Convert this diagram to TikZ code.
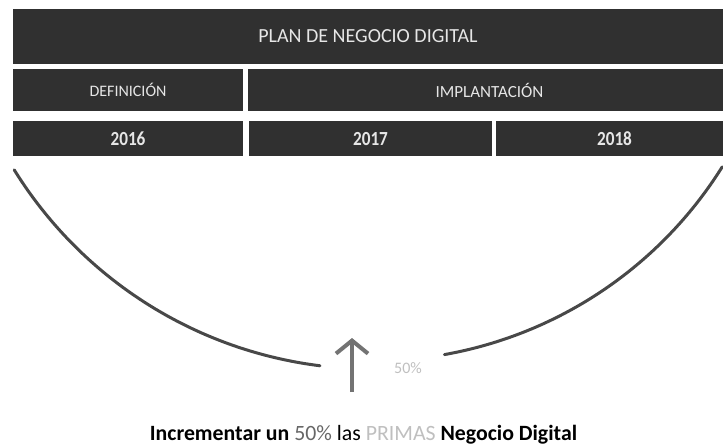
\documentclass[tikz,border=0pt]{standalone}
\usepackage{fontspec}
\setmainfont{Carlito}
\usetikzlibrary{arrows.meta}
\definecolor{boxgray}{HTML}{303030}
\definecolor{boxtext}{HTML}{E6E6E6}
\definecolor{arcgray}{HTML}{484848}
\tikzset{
  darkbox/.style={rectangle, fill=boxgray, text=boxtext, inner sep=0pt, font=\fontsize{16}{18}\selectfont},
  yearbox/.style={darkbox, font=\fontsize{20}{22}\selectfont\bfseries, text height=13pt, text depth=0pt},
  arcline/.style={draw=arcgray, line width=3pt, line cap=round},
}
\newcommand{\narrow}[1]{\scalebox{0.86}[1]{#1}}
\begin{document}
\begin{tikzpicture}[x=1pt,y=-1pt]
\useasboundingbox (0,0) rectangle (723,445);
\node[darkbox, minimum width=710pt, minimum height=55pt, font=\fontsize{20}{22}\selectfont] (plan) at (368,36.5) {PLAN DE NEGOCIO DIGITAL};
\node[darkbox, minimum width=230pt, minimum height=42pt] (def) at (128,90) {DEFINICIÓN};
\node[darkbox, minimum width=475pt, minimum height=42pt, font=\fontsize{17}{19}\selectfont] (imp) at (485.5,90) {\hspace*{8pt}IMPLANTACIÓN};
\node[yearbox, minimum width=230pt, minimum height=35pt] (y16) at (128,138.5) {\narrow{2016}};
\node[yearbox, minimum width=243pt, minimum height=35pt] (y17) at (370.5,138.5) {\narrow{2017}};
\node[yearbox, minimum width=227pt, minimum height=35pt] (y18) at (609.5,138.5) {\hspace*{10pt}\narrow{2018}};
\draw[arcline] plot[domain=97.1:148.2, samples=80] ({372+421*cos(\x)},{-52+421*sin(\x)});
\draw[arcline] plot[domain=32:79.9, samples=80] ({372+413*cos(\x)},{-52+413*sin(\x)});
\coordinate (abot) at (352,392);
\coordinate (atop) at (352,338);
\draw[draw=black!55, line width=4pt, -{Straight Barb[length=13pt,width=32pt]}] (abot) -- (atop);
\node[text=black!25, font=\fontsize{16}{18}\selectfont, anchor=base] (pct) at (408,373) {50\%};
\node[anchor=base, font=\fontsize{21.8}{24}\selectfont] (goal) at (363.5,440) {\textbf{Incrementar un} {\color{black!60}50\%} las {\color{black!25}PRIMAS} \textbf{Negocio Digital}};
\end{tikzpicture}
\end{document}
